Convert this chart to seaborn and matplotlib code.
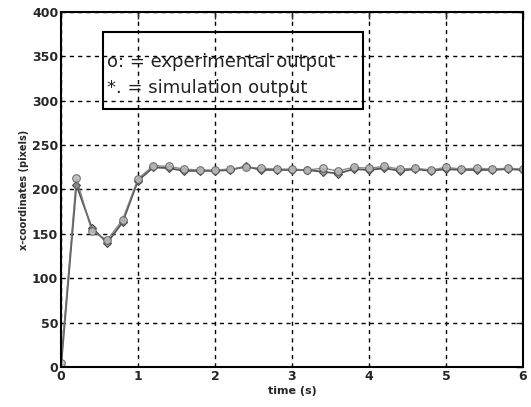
import matplotlib
matplotlib.use("Agg")
import matplotlib.pyplot as plt
import seaborn as sns
import pandas as pd
from matplotlib.patches import Rectangle

time_s = [0.0, 0.2, 0.4, 0.6, 0.8, 1.0, 1.2, 1.4, 1.6, 1.8, 2.0, 2.2, 2.4, 2.6, 2.8, 3.0,
          3.2, 3.4, 3.6, 3.8, 4.0, 4.2, 4.4, 4.6, 4.8, 5.0, 5.2, 5.4, 5.6, 5.8, 6.0]
experimental = [5, 213, 153, 143, 166, 212, 227, 226, 223, 222, 222, 223, 225, 224, 223, 223,
                222, 224, 221, 225, 224, 226, 223, 224, 222, 225, 223, 224, 223, 224, 223]
simulation = [0, 205, 157, 140, 163, 210, 225, 224, 221, 221, 221, 222, 226, 222, 222, 222,
              222, 220, 218, 223, 222, 224, 221, 223, 221, 223, 222, 222, 222, 223, 222]

x_ticks = [0, 1, 2, 3, 4, 5, 6]
y_ticks = [0, 50, 100, 150, 200, 250, 300, 350, 400]

df = pd.DataFrame({"t": time_s, "exp": experimental, "sim": simulation})

sns.set_style("white")
plt.rcParams['font.family'] = ['DejaVu Sans']

fig = plt.figure(figsize=(5.31, 4.07), dpi=100)
ax = fig.add_axes([61/531, 1-367/407, 462/531, 355/407])

sns.lineplot(data=df, x="t", y="sim", ax=ax, color="#555555", lw=1.3,
             marker="D", markersize=4.5, markerfacecolor="#999999", markeredgecolor="#444444")
sns.lineplot(data=df, x="t", y="exp", ax=ax, color="#777777", lw=1.0,
             marker="o", markersize=5.5, markerfacecolor="#bbbbbb", markeredgecolor="#555555",
             alpha=0.85)

ax.set_xlim(0, 6)
ax.set_ylim(0, 400)
ax.set_xticks(x_ticks)
ax.set_yticks(y_ticks)
ax.set_xticklabels([str(v) for v in x_ticks], fontsize=9, fontweight="bold")
ax.set_yticklabels([str(v) for v in y_ticks], fontsize=9, fontweight="bold")
ax.grid(True, color="black", linestyle=(0, (3, 3)), linewidth=1.0)
ax.tick_params(direction="in", length=5, top=True, right=True, width=1, pad=2)
for s in ax.spines.values():
    s.set_visible(True)
    s.set_color("black")
    s.set_linewidth(1.5)

ax.set_xlabel("time (s)", fontsize=8, fontweight="bold", labelpad=2)
ax.set_ylabel("x-coordinates (pixels)", fontsize=7, fontweight="bold", labelpad=2)

rect = Rectangle((42/462, 258/355), 260/462, 77/355, transform=ax.transAxes,
                 fill=False, edgecolor="black", linewidth=1.5, zorder=5)
ax.add_patch(rect)
ax.text(46/462, (367-62)/355, "o: = experimental output", transform=ax.transAxes,
        fontsize=13, va="center", ha="left", color="#222222", zorder=6)
ax.text(46/462, (367-88)/355, "*. = simulation output", transform=ax.transAxes,
        fontsize=13, va="center", ha="left", color="#222222", zorder=6)

fig.savefig("out.png", dpi=100)
